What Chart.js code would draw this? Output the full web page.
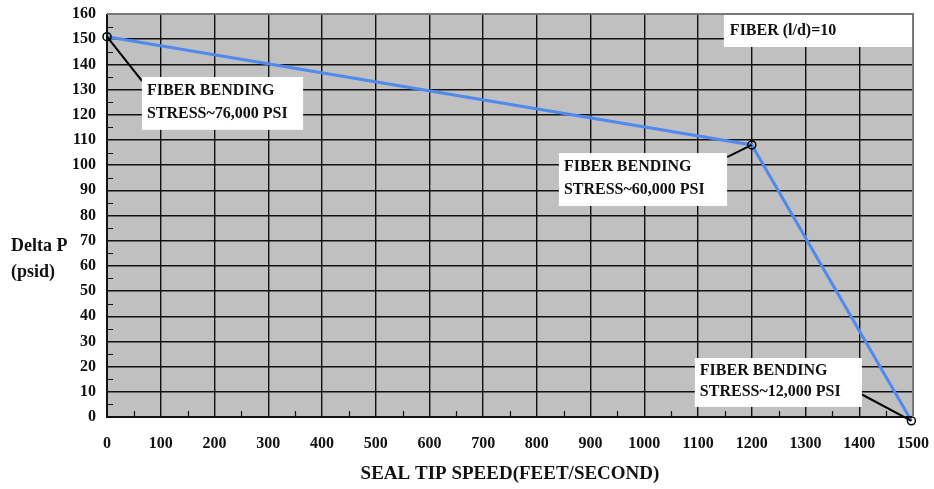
<!DOCTYPE html>
<html>
<head>
<meta charset="utf-8">
<script src="https://cdn.jsdelivr.net/npm/chart.js@4.4.1/dist/chart.umd.min.js"></script>
<style>
    html, body { margin: 0; padding: 0; background: #fff; }
    #wrap { width: 934px; height: 489px; }
</style>
</head>
<body>
<div id="wrap"><canvas id="chart_0"></canvas></div>
<script>
// Data
const tipSpeed = [0, 1200, 1497];
const deltaP = [151, 108, -1.5];
const xTicks = [0, 1500, 100];   // min, max, step
const yTicks = [0, 160, 10];

// Callout notes: anchor point (data) and box corners (data)
const notes = [
    { lines: ['FIBER BENDING', 'STRESS~76,000 PSI'], anchor: [0, 151], box: [65, 135, 365, 114] },
    { lines: ['FIBER BENDING', 'STRESS~60,000 PSI'], anchor: [1200, 108], box: [841, 104.8, 1154, 83.8] },
    { lines: ['FIBER BENDING', 'STRESS~12,000 PSI'], anchor: [1497, -1.5], box: [1094, 23.4, 1405, 4] }
];
const fiberNote = { text: 'FIBER (l/d)=10', box: [1148, 159.6, 1500, 146.9] };

const SERIF = "'Liberation Serif', 'Times New Roman', serif";

// Gray plot area, minor ticks, titles, callouts
const decorPlugin = {
    id: 'decor',
    beforeDraw(chart) {
        const { ctx, chartArea: a } = chart;
        ctx.save();
        ctx.fillStyle = '#c0c0c0';
        ctx.fillRect(a.left, a.top, a.right - a.left, a.bottom - a.top);
        ctx.restore();
    },
    afterDraw(chart) {
        const { ctx, chartArea: a, scales: { x, y } } = chart;
        ctx.save();
        // minor ticks
        ctx.strokeStyle = '#111';
        ctx.lineWidth = 1.2;
        ctx.beginPath();
        for (let v = 5; v < 160; v += 10) {
            const py = Math.round(y.getPixelForValue(v)) + 0.5;
            ctx.moveTo(a.left, py); ctx.lineTo(a.left + 6, py);
        }
        for (let v = 50; v < 1500; v += 100) {
            const px = Math.round(x.getPixelForValue(v)) + 0.5;
            ctx.moveTo(px, a.bottom); ctx.lineTo(px, a.bottom - 6);
        }
        ctx.stroke();
        // frame
        ctx.lineWidth = 2;
        ctx.strokeStyle = '#111';
        ctx.beginPath();
        ctx.moveTo(a.left, a.top); ctx.lineTo(a.left, a.bottom); ctx.lineTo(a.right, a.bottom);
        ctx.stroke();
        ctx.strokeStyle = '#777';
        ctx.beginPath();
        ctx.moveTo(a.left, a.top); ctx.lineTo(a.right, a.top); ctx.lineTo(a.right, a.bottom);
        ctx.stroke();

        // axis titles
        ctx.fillStyle = '#111';
        ctx.font = 'bold 19px ' + SERIF;
        ctx.textAlign = 'center';
        ctx.textBaseline = 'middle';
        ctx.fillText('SEAL TIP SPEED(FEET/SECOND)', (a.left + a.right) / 2, 474);
        ctx.font = 'bold 18px ' + SERIF;
        ctx.textAlign = 'left';
        ctx.fillText('Delta P', 11, 246);
        ctx.fillText('(psid)', 11, 272);

        // callouts
        ctx.font = 'bold 16px ' + SERIF;
        notes.forEach(n => {
            const ax = x.getPixelForValue(n.anchor[0]), ay = y.getPixelForValue(n.anchor[1]);
            const l = x.getPixelForValue(n.box[0]), t = y.getPixelForValue(n.box[1]);
            const r = x.getPixelForValue(n.box[2]), b = y.getPixelForValue(n.box[3]);
            const cx = ax < l ? l : (ax > r ? r : (l + r) / 2);
            const cy = ay < t ? t + 4 : (ay > b ? (t + b) / 2 + 12 : (t + b) / 2);
            ctx.strokeStyle = '#000';
            ctx.lineWidth = 2;
            ctx.beginPath();
            ctx.moveTo(ax, ay); ctx.lineTo(cx, cy);
            ctx.stroke();
            ctx.fillStyle = '#fff';
            ctx.fillRect(l, t, r - l, b - t);
            ctx.fillStyle = '#111';
            ctx.textAlign = 'left';
            ctx.fillText(n.lines[0], l + 5, t + (b - t) * 0.25 + 1);
            ctx.fillText(n.lines[1], l + 5, t + (b - t) * 0.7);
        });
        const fl = x.getPixelForValue(fiberNote.box[0]), ft = y.getPixelForValue(fiberNote.box[1]);
        const fr = x.getPixelForValue(fiberNote.box[2]), fb = y.getPixelForValue(fiberNote.box[3]);
        ctx.fillStyle = '#fff';
        ctx.fillRect(fl, ft, fr - fl - 1, fb - ft);
        ctx.fillStyle = '#111';
        ctx.fillText(fiberNote.text, fl + 6, (ft + fb) / 2);
        ctx.restore();
    }
};

function createChart0() {
    const ctx = document.getElementById('chart_0');
    const data = tipSpeed.map((v, i) => ({ x: v, y: deltaP[i] }));

    new Chart(ctx.getContext('2d'), {
        type: 'scatter',
        data: {
            datasets: [{
                data: data,
                showLine: true,
                borderColor: '#5289ee',
                borderWidth: 3,
                pointRadius: 4,
                pointBackgroundColor: 'rgba(0,0,0,0)',
                pointBorderColor: '#000',
                pointBorderWidth: 1.5,
                clip: false
            }]
        },
        options: {
            responsive: true,
            maintainAspectRatio: false,
            animation: false,
            layout: { padding: { top: 14, right: 21, left: 0, bottom: 0 } },
            plugins: {
                legend: { display: false },
                tooltip: { enabled: false }
            },
            scales: {
                x: {
                    type: 'linear',
                    min: xTicks[0], max: xTicks[1],
                    afterFit: s => { s.height = 72; s.paddingLeft = 0; s.paddingRight = 0; },
                    border: { display: false },
                    grid: { color: '#111', lineWidth: 1.4, drawTicks: false },
                    ticks: {
                        stepSize: xTicks[2], padding: 17, color: '#111', maxRotation: 0,
                        callback: v => String(v),
                        font: { family: SERIF, size: 16, weight: 'bold' }
                    }
                },
                y: {
                    min: yTicks[0], max: yTicks[1],
                    afterFit: s => { s.width = 107; s.paddingTop = 0; s.paddingBottom = 0; },
                    border: { display: false },
                    grid: { color: '#111', lineWidth: 1.4, drawTicks: false },
                    ticks: {
                        stepSize: yTicks[2], padding: 11, color: '#111',
                        font: { family: SERIF, size: 16, weight: 'bold' }
                    }
                }
            }
        },
        plugins: [decorPlugin]
    });
}

document.addEventListener('DOMContentLoaded', createChart0);
</script>
</body>
</html>
